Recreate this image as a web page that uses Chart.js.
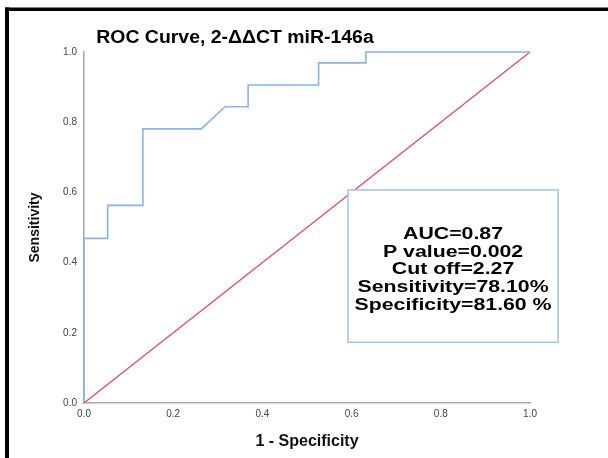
<!DOCTYPE html>
<html>
<head>
<meta charset="utf-8">
<script src="https://cdn.jsdelivr.net/npm/chart.js@4.4.1/dist/chart.umd.min.js"></script>
<style>
  html, body { margin: 0; padding: 0; background: #fff; }
  #wrap { width: 608px; height: 458px; position: relative; }
</style>
</head>
<body>
<div id="wrap"><canvas id="roc" width="608" height="458"></canvas></div>
<script>
// ROC curve
const fpr = [0, 0, 0.053, 0.053, 0.132, 0.132, 0.263, 0.316, 0.368, 0.368, 0.526, 0.526, 0.632, 0.632, 1.0];
const tpr = [0, 0.469, 0.469, 0.563, 0.563, 0.781, 0.781, 0.844, 0.844, 0.906, 0.906, 0.969, 0.969, 1.0, 1.0];
const refX = [0, 1];
const refY = [0, 1];
const tickVals = [0, 0.2, 0.4, 0.6, 0.8, 1.0];
const statLines = ["AUC=0.87", "P value=0.002", "Cut off=2.27", "Sensitivity=78.10%", "Specificity=81.60 %"];
const titleText = "ROC Curve, 2-\u0394\u0394CT miR-146a";

const FONT = "'Liberation Sans', Arial, sans-serif";

// white page + black frame (top and left only, like the screenshot)
const framePlugin = {
    id: "frame",
    beforeDraw(chart) {
        const c = chart.ctx;
        c.save();
        c.fillStyle = "#fff";
        c.fillRect(0, 0, chart.width, chart.height);
        c.fillStyle = "#000";
        c.fillRect(5, 7.5, chart.width - 5, 3.5);
        c.fillRect(5, 7.5, 4, chart.height);
        c.restore();
    }
};

// title + stats box (text is stretched sideways in the source image)
const textPlugin = {
    id: "extras",
    afterDatasetsDraw(chart) {
        const c = chart.ctx;
        const xs = chart.scales.x, ys = chart.scales.y;
        c.save();
        // title
        c.font = "bold 18px " + FONT;
        c.fillStyle = "#000";
        c.textAlign = "center";
        c.textBaseline = "middle";
        c.translate(235, 38);
        c.scale(1.08, 1);
        c.fillText(titleText, 0, 0);
        c.restore();

        // stats box
        const l = xs.getPixelForValue(0.592), r = xs.getPixelForValue(1.063);
        const t = ys.getPixelForValue(0.607), b = ys.getPixelForValue(0.173);
        c.save();
        c.fillStyle = "#fff";
        c.fillRect(l, t, r - l, b - t);
        c.strokeStyle = "#9fc3ef";
        c.lineWidth = 1.5;
        c.strokeRect(l, t, r - l, b - t);
        c.font = "bold 16px " + FONT;
        c.fillStyle = "#000";
        c.textAlign = "center";
        c.textBaseline = "middle";
        const cx = (l + r) / 2;
        statLines.forEach((s, i) => {
            c.save();
            c.translate(cx, 234.5 + i * 17.7);
            c.scale(1.33, 1);
            c.fillText(s, 0, 0);
            c.restore();
        });
        c.restore();
    }
};

const axisLine = "#a8a8a8";

new Chart(document.getElementById("roc"), {
    type: "scatter",
    data: {
        datasets: [
            {
                label: "ROC",
                data: fpr.map((x, i) => ({ x: x, y: tpr[i] })),
                showLine: true,
                borderColor: "#86b3ef",
                borderWidth: 1.6,
                pointRadius: 0,
                fill: false,
                clip: 6,
                order: 1
            },
            {
                label: "Reference",
                data: refX.map((x, i) => ({ x: x, y: refY[i] })),
                showLine: true,
                borderColor: "#e4466c",
                borderWidth: 1.3,
                pointRadius: 0,
                fill: false,
                clip: 6,
                order: 2
            }
        ]
    },
    options: {
        responsive: false,
        animation: false,
        devicePixelRatio: 1,
        layout: { padding: { top: 52, right: 78, bottom: 0, left: 0 } },
        plugins: {
            legend: { display: false },
            tooltip: { enabled: false }
        },
        scales: {
            x: {
                type: "linear",
                min: 0,
                max: 1,
                afterFit(s) { s.height = 55; },
                afterBuildTicks(s) { s.ticks = tickVals.map(v => ({ value: v })); },
                grid: { display: false, drawTicks: false },
                border: { display: true, color: axisLine, width: 1.5 },
                ticks: {
                    padding: 5,
                    color: "#444",
                    font: { family: FONT, size: 10 },
                    callback: v => v.toFixed(1),
                    maxRotation: 0
                },
                title: {
                    display: true,
                    text: "1 - Specificity",
                    color: "#111",
                    font: { family: FONT, size: 16, weight: "bold" },
                    padding: { top: 0, bottom: 7 }
                }
            },
            y: {
                type: "linear",
                min: 0,
                max: 1,
                afterFit(s) { s.width = 84; },
                afterBuildTicks(s) { s.ticks = tickVals.map(v => ({ value: v })); },
                grid: { display: false, drawTicks: false },
                border: { display: true, color: axisLine, width: 1.5 },
                ticks: {
                    padding: 7,
                    color: "#444",
                    font: { family: FONT, size: 10 },
                    callback: v => v.toFixed(1)
                },
                title: {
                    display: true,
                    text: "Sensitivity",
                    color: "#111",
                    font: { family: FONT, size: 14, weight: "bold" },
                    padding: { top: 27, bottom: 0 }
                }
            }
        }
    },
    plugins: [framePlugin, textPlugin]
});
</script>
</body>
</html>
